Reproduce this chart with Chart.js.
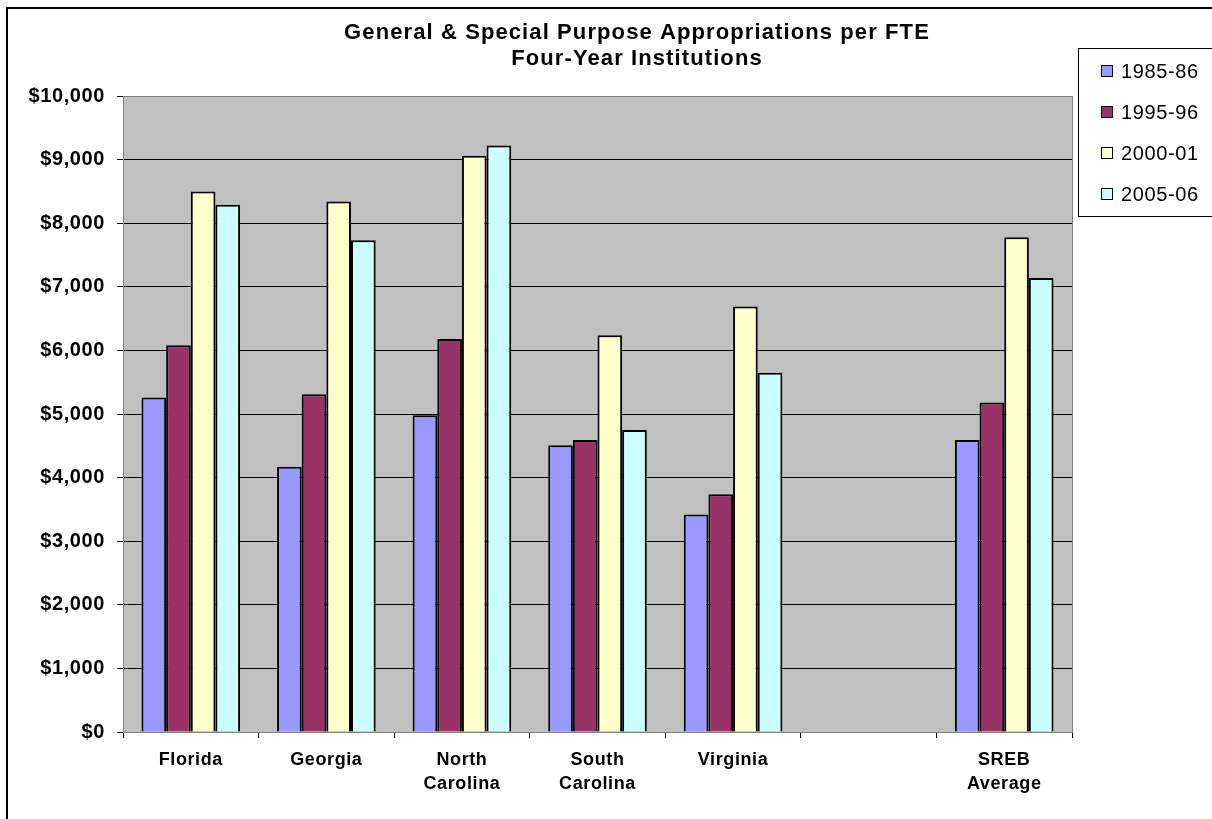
<!DOCTYPE html>
<html>
<head>
<meta charset="utf-8">
<script src="https://cdn.jsdelivr.net/npm/chart.js@4"></script>
<style>
  html, body { margin: 0; padding: 0; background: #fff; }
  #wrap { position: relative; width: 1212px; height: 819px; }
</style>
</head>
<body>
<div id="wrap"><canvas id="c" width="1212" height="819"></canvas></div>
<script>
// Categories (multi-line labels); the sixth slot is an intentional gap
const categories = [['Florida'], ['Georgia'], ['North', 'Carolina'], ['South', 'Carolina'], ['Virginia'], '', ['SREB', 'Average']];

// Appropriations per FTE by year
const series1985 = [5260, 4170, 4980, 4510, 3420, null, 4590];
const series1995 = [6080, 5310, 6180, 4590, 3740, null, 5180];
const series2000 = [8500, 8340, 9060, 6240, 6690, null, 7780];
const series2005 = [8290, 7730, 9220, 4750, 5650, null, 7140];

const seriesNames = ['1985-86', '1995-96', '2000-01', '2005-06'];
const seriesColors = ['#9999FF', '#993366', '#FFFFCC', '#CCFFFF'];

const titleLines = ['General & Special Purpose Appropriations per FTE', 'Four-Year Institutions'];

const yTicks = [0, 1000, 2000, 3000, 4000, 5000, 6000, 7000, 8000, 9000, 10000];

const FONT = '"Liberation Sans", Arial, sans-serif';
const TICK_SPACING = '0.6px';

// Gray plot background, outer frame, title and legend box
const decor = {
  id: 'decor',
  beforeUpdate(chart) { chart.ctx.letterSpacing = TICK_SPACING; },
  beforeDraw(chart) {
    const { ctx, chartArea: a } = chart;
    ctx.save();
    ctx.fillStyle = '#fff';
    ctx.fillRect(0, 0, chart.width, chart.height);
    ctx.fillStyle = '#C0C0C0';
    ctx.fillRect(a.left, a.top, a.right - a.left, a.bottom - a.top);
    ctx.restore();
    ctx.letterSpacing = TICK_SPACING;
  },
  afterDraw(chart) {
    const { ctx, chartArea: a } = chart;
    ctx.save();
    // plot area frame
    ctx.strokeStyle = '#808080';
    ctx.lineWidth = 1;
    ctx.strokeRect(Math.round(a.left) + 0.5, Math.round(a.top) + 0.5, Math.round(a.right - a.left), Math.round(a.bottom - a.top));
    // outer chart frame
    ctx.strokeStyle = '#000';
    ctx.lineWidth = 2;
    ctx.strokeRect(7, 8, 1260, 860);
    // title
    ctx.fillStyle = '#000';
    ctx.font = 'bold 22px ' + FONT;
    ctx.letterSpacing = '1.1px';
    ctx.textAlign = 'center';
    ctx.textBaseline = 'middle';
    ctx.fillText(titleLines[0], 637, 33);
    ctx.fillText(titleLines[1], 637, 59);
    // legend
    ctx.letterSpacing = '0.6px';
    ctx.lineWidth = 1;
    ctx.strokeStyle = '#000';
    ctx.fillStyle = '#fff';
    ctx.fillRect(1078.5, 48.5, 160, 168);
    ctx.strokeRect(1078.5, 48.5, 160, 168);
    ctx.font = '20px ' + FONT;
    ctx.textAlign = 'left';
    chart.data.datasets.forEach((ds, i) => {
      const cy = 71 + i * 41;
      ctx.fillStyle = ds.backgroundColor;
      ctx.fillRect(1101.5, cy - 5.5, 11, 11);
      ctx.strokeRect(1101.5, cy - 5.5, 11, 11);
      ctx.fillStyle = '#000';
      ctx.fillText(ds.label, 1121, cy + 1);
    });
    ctx.restore();
  }
};

const datasets = [series1985, series1995, series2000, series2005].map((vals, i) => ({
  label: seriesNames[i],
  data: vals,
  backgroundColor: seriesColors[i],
  borderColor: '#000',
  borderWidth: 2,
  categoryPercentage: 4 / 5.5,
  barPercentage: 1
}));

new Chart(document.getElementById('c'), {
  type: 'bar',
  data: { labels: categories, datasets },
  options: {
    responsive: false,
    animation: false,
    devicePixelRatio: 1,
    layout: { padding: { top: 96, right: 140, bottom: 0, left: 0 } },
    plugins: { legend: { display: false }, title: { display: false }, tooltip: { enabled: false } },
    scales: {
      x: {
        afterFit(s) { s.height = 87; },
        grid: { offset: true, drawOnChartArea: false, color: '#000', tickLength: 6, tickColor: '#000' },
        border: { color: '#000', width: 1 },
        ticks: { color: '#000', padding: 10, font: { family: FONT, size: 18, weight: 'bold', lineHeight: 1.33 }, maxRotation: 0, autoSkip: false }
      },
      y: {
        min: 0, max: 10000,
        afterFit(s) { s.width = 123; },
        afterBuildTicks(s) { s.ticks = yTicks.map(v => ({ value: v })); },
        grid: { color: '#000', lineWidth: 1, tickLength: 6, tickColor: '#000' },
        border: { color: '#808080', width: 1 },
        ticks: {
          color: '#000', padding: 12,
          font: { family: FONT, size: 20, weight: 'bold' },
          callback: v => '$' + Number(v).toLocaleString('en-US')
        }
      }
    }
  },
  plugins: [decor]
});
</script>
</body>
</html>
